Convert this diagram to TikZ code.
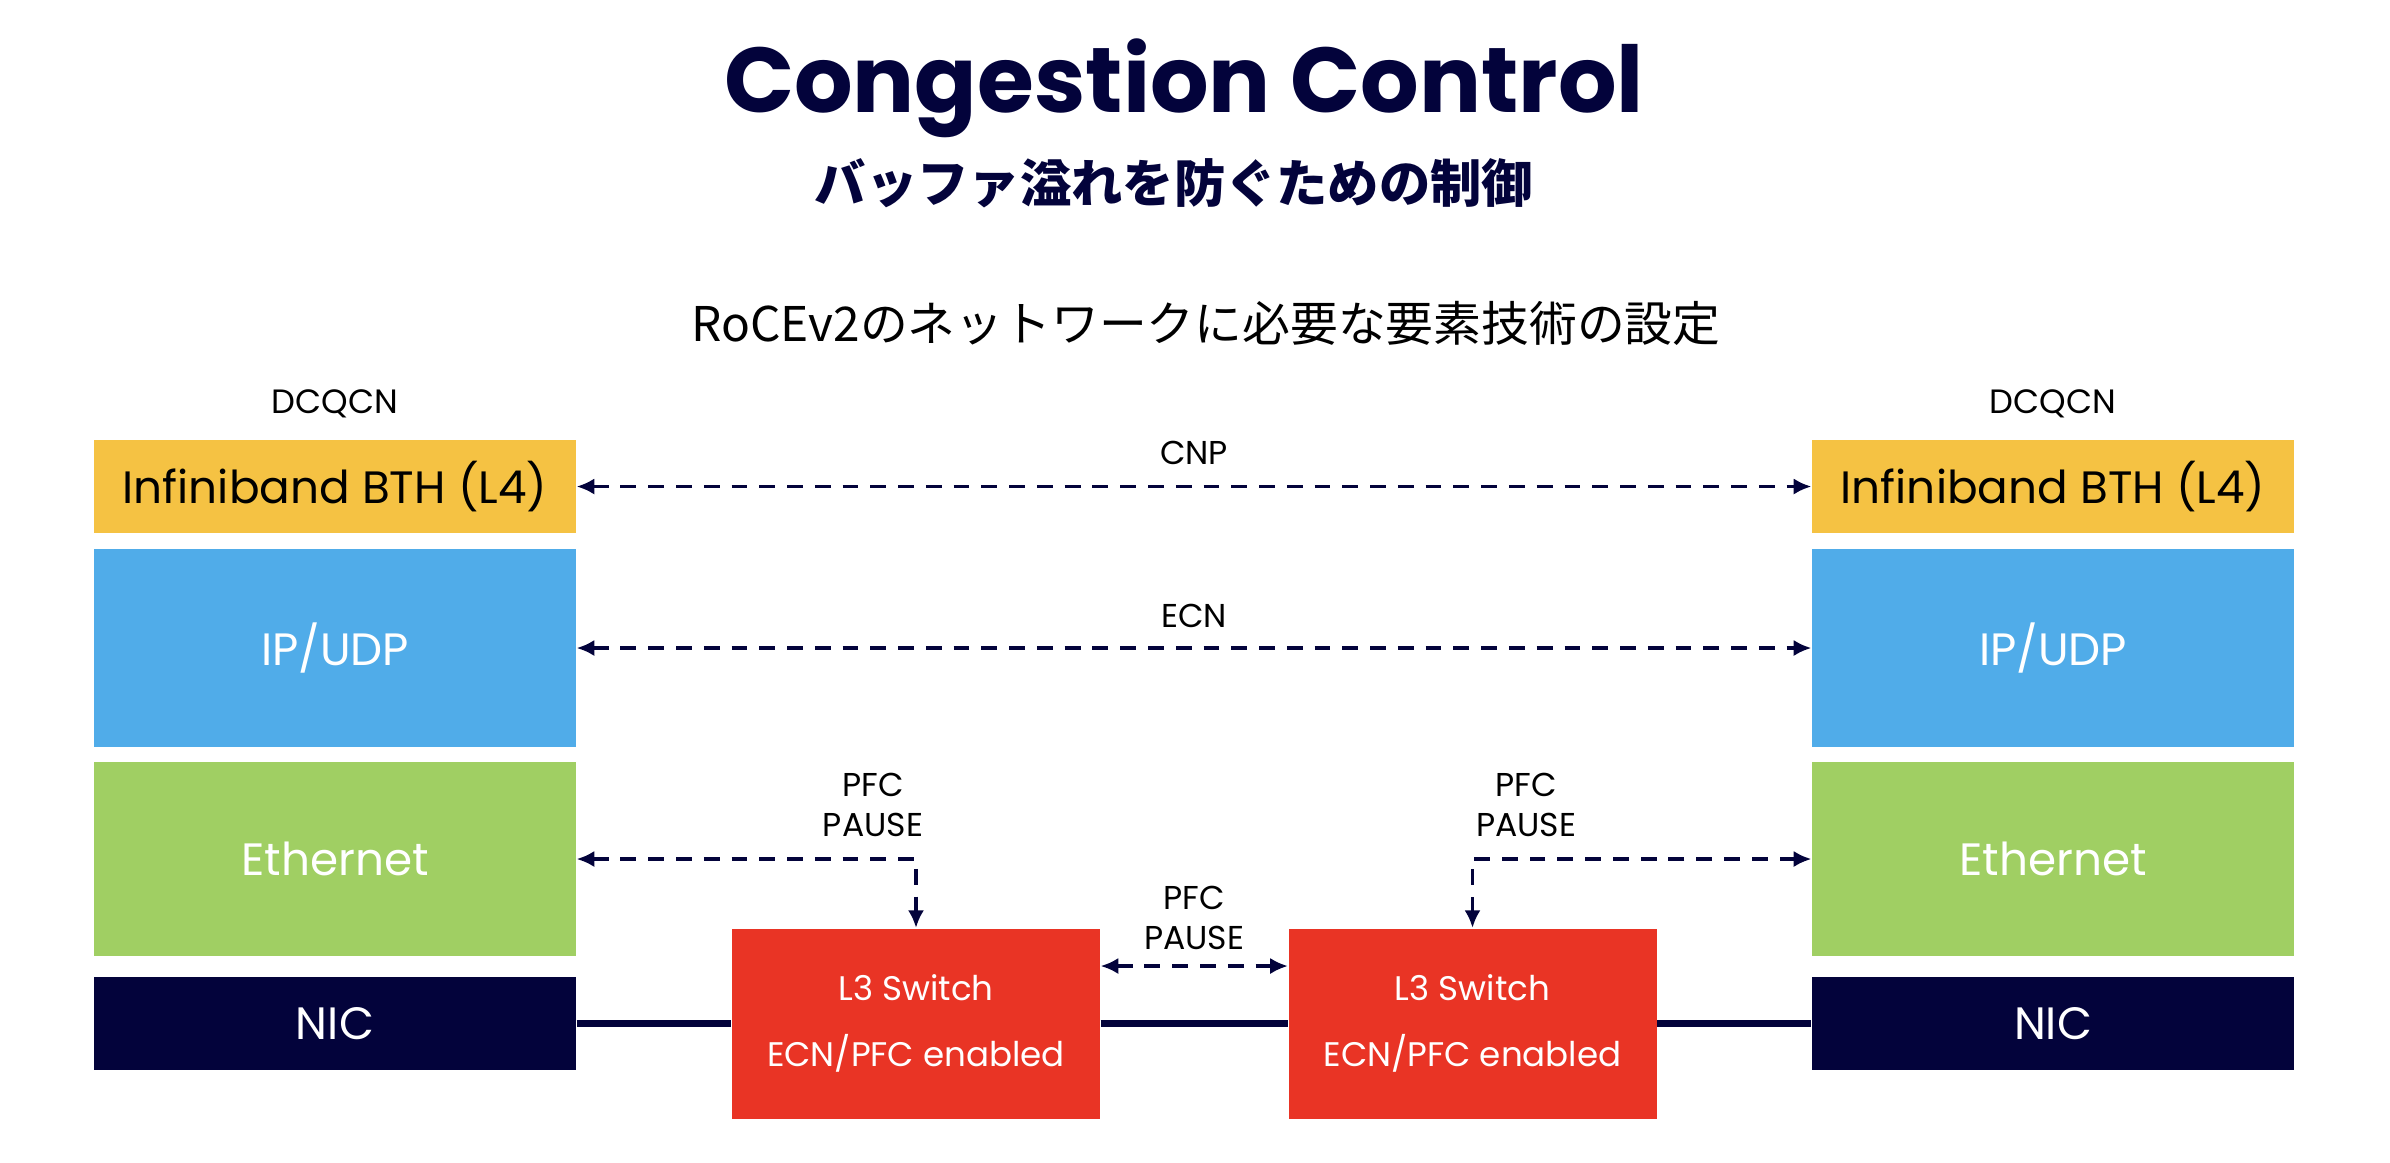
\documentclass[tikz,border=0pt]{standalone}
\usepackage{fontspec}
\setmainfont{Poppins}
\newfontfamily\jpfont{Noto Sans CJK JP}
\usepackage{tikz}
\usetikzlibrary{arrows.meta, positioning}
\definecolor{navy}{HTML}{03033B}
\definecolor{bthyellow}{HTML}{F5C243}
\definecolor{ipblue}{HTML}{50ACE9}
\definecolor{ethgreen}{HTML}{A0CF63}
\definecolor{swred}{HTML}{E93425}
\tikzset{
    layernode/.style = {draw=none, rectangle, inner sep=0em, node distance=0em, minimum width=4.82cm, 
      font=\fontsize{12.9}{15}\selectfont},
    switchnode/.style = {draw=none, fill=swred, rectangle, inner sep=0em, node distance=0em, 
      minimum width=3.68cm, minimum height=1.9cm, text=white, align=center, font=\fontsize{9.7}{18.8}\selectfont},
    textnode/.style = {draw=none, fill=none, rectangle, inner sep=0em, node distance=0em, align=center, 
      text=black, font=\fontsize{9.4}{11.4}\selectfont},
    dashlink/.style = {navy, line width=0.9pt, dash pattern=on 4.5pt off 3.4pt, 
      {Latex[length=5pt,width=4.6pt]}-{Latex[length=5pt,width=4.6pt]}},
    wirelink/.style = {navy, line width=1.8pt}
}
\begin{document}
\begin{tikzpicture}
    \useasboundingbox (0,0) rectangle (23.9,-11.62);

    % headings
    \node [name=title, textnode, anchor=base, text=navy, font=\fontsize{26.2}{32}\selectfont\bfseries] at (11.84,-1.12) {Congestion Control};
    \node [name=subtitle, textnode, text=navy, font=\jpfont\fontsize{14.6}{18}\selectfont\bfseries] at (11.74,-1.83) {バッファ溢れを防ぐための制御};
    \node [name=roce, textnode, font=\jpfont\fontsize{13.6}{16}\selectfont] at (12.06,-3.23) {RoCEv2のネットワークに必要な要素技術の設定};

    % left stack
    \node [name=ibL, layernode, fill=bthyellow, minimum height=0.93cm] at (3.35,-4.865) {Infiniband BTH (L4)};
    \node [name=ipL, layernode, fill=ipblue, text=white, minimum height=1.98cm, below of=ibL, yshift=-1.615cm] {IP/UDP};
    \node [name=ethL, layernode, fill=ethgreen, text=white, minimum height=1.94cm, below of=ipL, yshift=-2.11cm] {Ethernet};
    \node [name=nicL, layernode, fill=navy, text=white, minimum height=0.93cm, below of=ethL, yshift=-1.645cm] {NIC};
    \node [name=dcqcnL, textnode, above of=ibL, yshift=0.825cm, font=\fontsize{9.6}{12}\selectfont] {DCQCN};

    % right stack
    \node [name=ibR, layernode, fill=bthyellow, minimum height=0.93cm, right of=ibL, xshift=17.18cm] {Infiniband BTH (L4)};
    \node [name=ipR, layernode, fill=ipblue, text=white, minimum height=1.98cm, right of=ipL, xshift=17.18cm] {IP/UDP};
    \node [name=ethR, layernode, fill=ethgreen, text=white, minimum height=1.94cm, right of=ethL, xshift=17.18cm] {Ethernet};
    \node [name=nicR, layernode, fill=navy, text=white, minimum height=0.93cm, right of=nicL, xshift=17.18cm] {NIC};
    \node [name=dcqcnR, textnode, above of=ibR, yshift=0.825cm, font=\fontsize{9.6}{12}\selectfont] {DCQCN};

    % switches
    \node [name=sw1, switchnode, right of=nicL, xshift=5.81cm] {L3 Switch\\ECN/PFC enabled};
    \node [name=sw2, switchnode, right of=sw1, xshift=5.565cm] {L3 Switch\\ECN/PFC enabled};

    \draw [wirelink] (nicL) -- (sw1);
    \draw [wirelink] (sw1) -- (sw2);
    \draw [wirelink] (sw2) -- (nicR);

    \draw [dashlink] (ibL) -- node [name=cnp, textnode, yshift=0.335cm] {CNP} (ibR);
    \draw [dashlink] (ipL) -- node [name=ecn, textnode, yshift=0.32cm] {ECN} (ipR);
    \draw [dashlink] (ethL) -| (sw1);
    \draw [dashlink] (ethR) -| (sw2);
    \draw [dashlink] ([yshift=0.575cm]sw1.east) -- node [name=pfcm, textnode, yshift=0.48cm] {PFC\\PAUSE} ([yshift=0.575cm]sw2.west);
    \node [name=pfcl, textnode] at (8.73,-8.05) {PFC\\PAUSE};
    \node [name=pfcr, textnode] at (15.26,-8.05) {PFC\\PAUSE};
\end{tikzpicture}
\end{document}
